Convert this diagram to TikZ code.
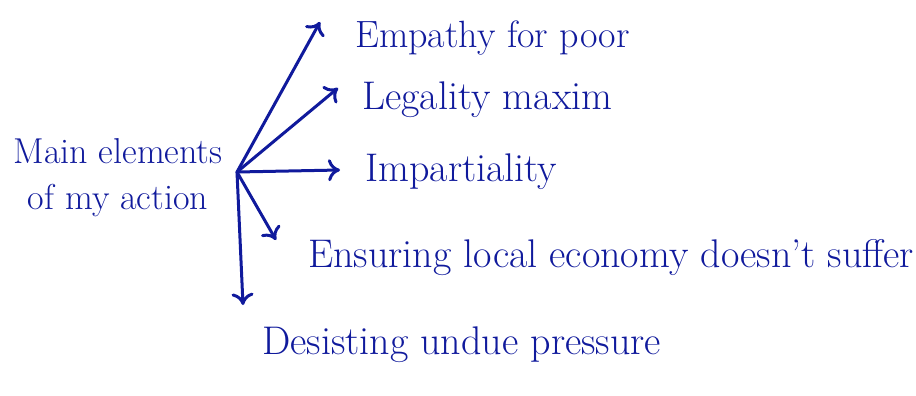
\documentclass[tikz,border=0pt]{standalone}
\usepackage[dvipsnames]{xcolor}
\usepackage{tikz}
\usetikzlibrary{positioning, arrows, arrows.meta}

\definecolor{ink}{RGB}{16,26,156}

\begin{document}
\begin{tikzpicture}[x=1pt, y=-1pt,
        >={To[length=12pt, width=22pt]},
        pen/.style={ink, line width=3pt, line cap=round, line join=round},
        word/.style={ink, anchor=west, inner sep=0pt, font=\fontsize{40}{48}\selectfont}]
        \useasboundingbox (0,0) rectangle (916,396);

        % the main idea on the left
        \node[ink, inner sep=0pt, align=center, font=\fontsize{36}{46}\selectfont] (main) at (118,178) {Main elements\\of my action};
        \coordinate (hub) at (237,172);

        % the five elements
        \node[word, font=\fontsize{38}{46}\selectfont] (emp) at (355,38) {Empathy for poor};
        \node[word] (leg) at (362,100) {Legality maxim};
        \node[word] (imp) at (365,172) {Impartiality};
        \node[word] (ens) at (308,258) {Ensuring local economy doesn't suffer};
        \node[word] (des) at (262,345) {Desisting undue pressure};

        \draw[pen, ->] (hub) -- ([shift={(-35,-16)}]emp.west);
        \draw[pen, ->] (hub) -- ([shift={(-24,-12)}]leg.west);
        \draw[pen, ->] (hub) -- ([shift={(-25,-2)}]imp.west);
        \draw[pen, ->] (hub) -- ([shift={(-32,-18)}]ens.west);
        \draw[pen, ->] (hub) -- ([shift={(-19,-40)}]des.west);
    \end{tikzpicture}
\end{document}
